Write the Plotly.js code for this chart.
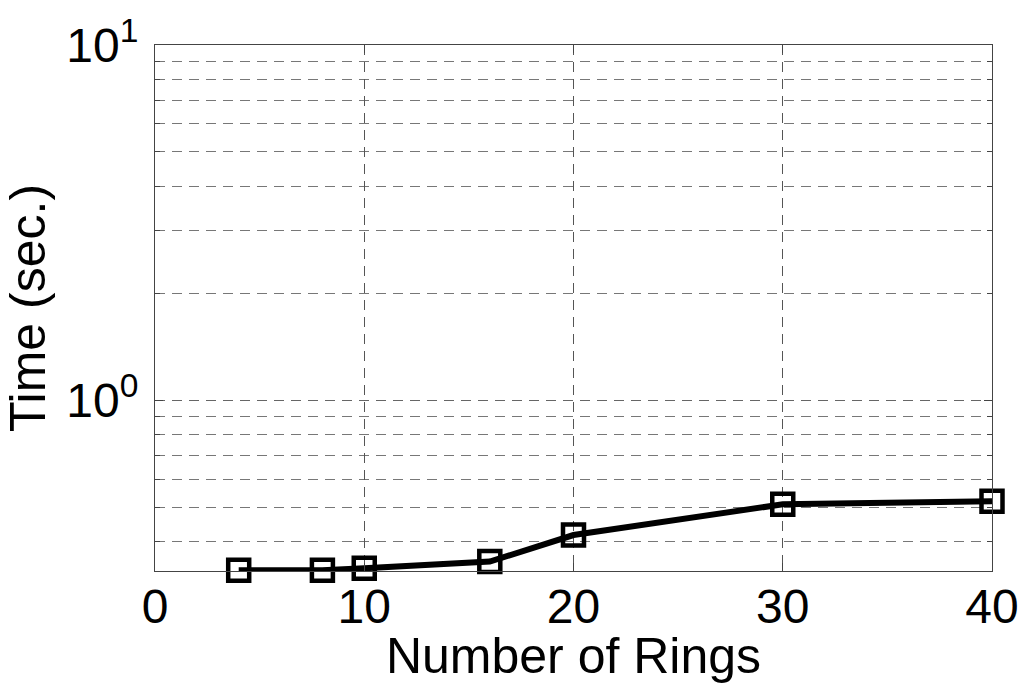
<!DOCTYPE html>
<html>
<head>
<meta charset="utf-8">
<script src="https://cdn.plot.ly/plotly-3.0.1.min.js"></script>
<style>
  html, body { margin: 0; padding: 0; background: #fff; }
  #chart { width: 1024px; height: 684px; }
</style>
</head>
<body>
<div id="chart"></div>
<script>
var rings = [4, 8, 10, 16, 20, 30, 40];
var times = [0.333, 0.333, 0.337, 0.352, 0.418, 0.510, 0.520];

var yTickVals = [1, 10];
var yTickText = ['10<sup>0</sup>', '10<sup>1</sup>'];
var yMinorVals = [0.4, 0.5, 0.6, 0.7, 0.8, 0.9, 2, 3, 4, 5, 6, 7, 8, 9];
var xTickVals = [0, 10, 20, 30, 40];

var trace = {
    x: rings,
    y: times,
    mode: 'lines+markers',
    line: {color: '#000', width: 6},
    marker: {symbol: 'square-open', size: 21, color: '#000', line: {width: 4.5, color: '#000'}},
    cliponaxis: false,
    showlegend: false
};

var layout = {
    width: 1024,
    height: 684,
    margin: {l: 155, r: 32, t: 45, b: 113},
    paper_bgcolor: '#fff',
    plot_bgcolor: '#fff',
    font: {family: 'Liberation Sans, Arial, sans-serif', color: '#000', size: 48},
    xaxis: {
        range: [0, 40],
        tickmode: 'array',
        tickvals: xTickVals,
        ticks: 'inside',
        ticklen: 8,
        tickcolor: '#444',
        showline: true,
        linecolor: '#444',
        linewidth: 1,
        mirror: 'ticks',
        showgrid: true,
        gridcolor: '#555',
        griddash: '10px,7px',
        gridwidth: 1,
        zeroline: false,
        ticklabelstandoff: -7,
        tickfont: {size: 48},
        title: {text: 'Number of Rings', font: {size: 50}, standoff: 0}
    },
    yaxis: {
        type: 'log',
        range: [-0.48, 1],
        tickmode: 'array',
        tickvals: yTickVals,
        ticktext: yTickText,
        ticks: 'inside',
        ticklen: 8,
        tickcolor: '#444',
        showline: true,
        linecolor: '#444',
        linewidth: 1,
        mirror: 'ticks',
        showgrid: true,
        gridcolor: '#666',
        griddash: '10px,7px',
        gridwidth: 1,
        zeroline: false,
        ticklabelstandoff: 6,
        tickfont: {size: 48},
        minor: {
            tickmode: 'array',
            tickvals: yMinorVals,
            ticks: 'inside',
            ticklen: 5,
            tickcolor: '#444',
            showgrid: true,
            gridcolor: '#777',
            griddash: '10px,7px',
            gridwidth: 1
        },
        title: {text: 'Time (sec.)', font: {size: 50}, standoff: 6}
    }
};

var config = {staticPlot: true};

Plotly.newPlot('chart', [trace], layout, config);
</script>
</body>
</html>
